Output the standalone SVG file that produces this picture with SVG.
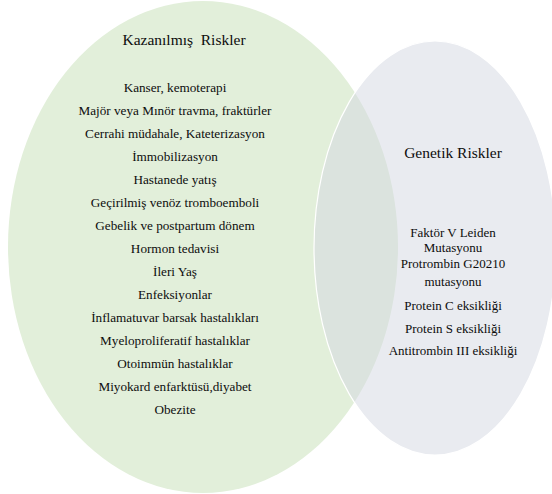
<svg xmlns="http://www.w3.org/2000/svg" width="552" height="494" viewBox="0 0 552 494">
<style>
  .t { font-family: "Liberation Serif", "Times New Roman", serif; fill: #0d0d0d; text-anchor: middle; }
  .h { font-size: 15.5px; }
  .i { font-size: 13.2px; }
  .r { font-size: 13px; }
</style>
<rect width="552" height="494" fill="#ffffff"/>
<g id="acquired">
  <ellipse cx="203" cy="247" rx="195" ry="246" fill="#e2efda"/>
  <text class="t h" x="184" y="45" xml:space="preserve">Kazanılmış  Riskler</text>
  <text class="t i" x="175" y="92">Kanser, kemoterapi</text>
  <text class="t i" x="175" y="115">Majör veya Mınör travma, fraktürler</text>
  <text class="t i" x="175" y="138">Cerrahi müdahale, Kateterizasyon</text>
  <text class="t i" x="175" y="161">İmmobilizasyon</text>
  <text class="t i" x="175" y="184">Hastanede yatış</text>
  <text class="t i" x="175" y="207">Geçirilmiş venöz tromboemboli</text>
  <text class="t i" x="175" y="230">Gebelik ve postpartum dönem</text>
  <text class="t i" x="175" y="253">Hormon tedavisi</text>
  <text class="t i" x="175" y="276">İleri Yaş</text>
  <text class="t i" x="175" y="299">Enfeksiyonlar</text>
  <text class="t i" x="175" y="322">İnflamatuvar barsak hastalıkları</text>
  <text class="t i" x="175" y="345">Myeloproliferatif hastalıklar</text>
  <text class="t i" x="175" y="368">Otoimmün hastalıklar</text>
  <text class="t i" x="175" y="391">Miyokard enfarktüsü,diyabet</text>
  <text class="t i" x="175" y="414">Obezite</text>
</g>
<g id="genetic">
  <ellipse cx="435" cy="248" rx="121" ry="207" fill="#d3d7e1" fill-opacity="0.5" stroke="#ffffff" stroke-width="1.2"/>
  <text class="t h" x="453" y="158">Genetik Riskler</text>
  <text class="t r" x="453" y="237">Faktör V Leiden</text>
  <text class="t r" x="453" y="252">Mutasyonu</text>
  <text class="t r" x="453" y="268">Protrombin G20210</text>
  <text class="t r" x="453" y="286">mutasyonu</text>
  <text class="t r" x="453" y="310">Protein C eksikliği</text>
  <text class="t r" x="453" y="333">Protein S eksikliği</text>
  <text class="t r" x="453" y="355">Antitrombin III eksikliği</text>
</g>
<g id="connectors"></g>
</svg>
